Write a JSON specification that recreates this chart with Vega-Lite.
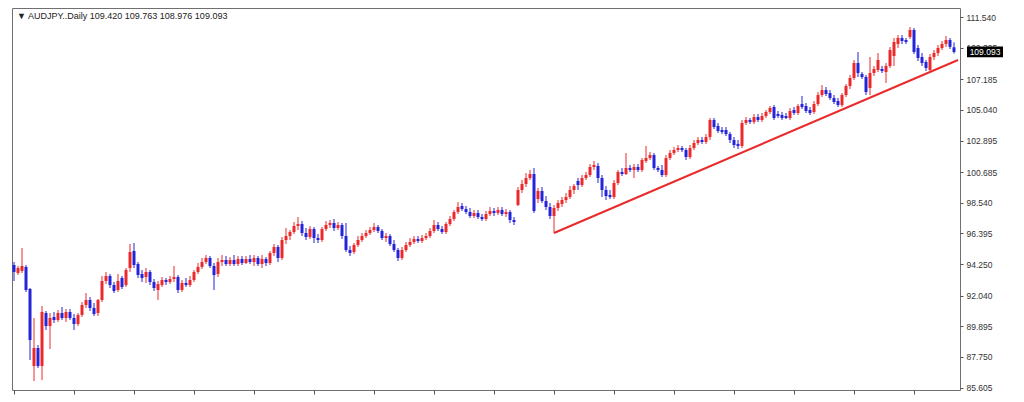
{
"$schema": "https://vega.github.io/schema/vega-lite/v6.json",
"width": 948, "height": 382,
"autosize": {"type": "none"},
"padding": {"left": 12, "top": 8, "right": 64, "bottom": 12},
"background": "white",
"config": {"view": {"stroke": "#707070", "strokeWidth": 1}, "axis": {"grid": false}},
"datasets": {
"candles": [
{"i":0,"o":94.18,"h":94.39,"l":93.06,"c":93.69},
{"i":1,"o":93.62,"h":94.11,"l":93.48,"c":93.97},
{"i":2,"o":93.76,"h":95.37,"l":93.62,"c":94.11},
{"i":3,"o":94.04,"h":94.18,"l":92.29,"c":92.43},
{"i":4,"o":92.50,"h":92.57,"l":87.53,"c":88.93},
{"i":5,"o":87.11,"h":90.47,"l":86.06,"c":88.37},
{"i":6,"o":88.37,"h":88.58,"l":86.97,"c":87.11},
{"i":7,"o":87.11,"h":91.31,"l":86.13,"c":90.89},
{"i":8,"o":90.82,"h":90.96,"l":89.63,"c":89.91},
{"i":9,"o":89.91,"h":90.82,"l":88.30,"c":90.47},
{"i":10,"o":90.54,"h":90.89,"l":90.12,"c":90.33},
{"i":11,"o":90.33,"h":91.03,"l":90.19,"c":90.82},
{"i":12,"o":90.82,"h":91.24,"l":90.33,"c":90.47},
{"i":13,"o":90.47,"h":91.10,"l":90.19,"c":90.89},
{"i":14,"o":90.89,"h":91.10,"l":90.33,"c":90.47},
{"i":15,"o":90.47,"h":90.75,"l":89.63,"c":90.05},
{"i":16,"o":90.05,"h":90.82,"l":89.91,"c":90.68},
{"i":17,"o":90.68,"h":91.59,"l":90.54,"c":91.38},
{"i":18,"o":91.38,"h":92.22,"l":91.17,"c":91.73},
{"i":19,"o":91.73,"h":91.94,"l":90.96,"c":91.17},
{"i":20,"o":91.17,"h":91.52,"l":90.61,"c":90.75},
{"i":21,"o":90.82,"h":91.80,"l":90.61,"c":91.73},
{"i":22,"o":91.73,"h":93.41,"l":91.59,"c":93.06},
{"i":23,"o":93.06,"h":93.69,"l":92.85,"c":93.41},
{"i":24,"o":93.41,"h":93.55,"l":92.57,"c":92.78},
{"i":25,"o":92.78,"h":92.99,"l":92.22,"c":92.36},
{"i":26,"o":92.43,"h":93.55,"l":92.29,"c":93.06},
{"i":27,"o":93.27,"h":93.41,"l":92.50,"c":92.64},
{"i":28,"o":92.78,"h":93.97,"l":92.64,"c":93.83},
{"i":29,"o":93.97,"h":95.65,"l":93.69,"c":95.09},
{"i":30,"o":95.16,"h":95.72,"l":93.97,"c":94.18},
{"i":31,"o":94.25,"h":94.39,"l":93.27,"c":93.48},
{"i":32,"o":93.55,"h":93.83,"l":92.99,"c":93.27},
{"i":33,"o":93.34,"h":93.97,"l":92.92,"c":93.69},
{"i":34,"o":93.69,"h":93.83,"l":92.78,"c":92.99},
{"i":35,"o":92.99,"h":93.20,"l":92.36,"c":92.57},
{"i":36,"o":92.43,"h":93.06,"l":91.73,"c":92.85},
{"i":37,"o":92.78,"h":93.34,"l":92.64,"c":93.13},
{"i":38,"o":93.13,"h":93.27,"l":92.78,"c":92.99},
{"i":39,"o":92.99,"h":93.41,"l":92.85,"c":93.20},
{"i":40,"o":93.20,"h":94.11,"l":92.99,"c":93.34},
{"i":41,"o":93.34,"h":93.48,"l":92.22,"c":92.43},
{"i":42,"o":92.43,"h":93.13,"l":92.29,"c":92.92},
{"i":43,"o":92.92,"h":93.27,"l":92.64,"c":92.78},
{"i":44,"o":92.78,"h":93.41,"l":92.64,"c":93.13},
{"i":45,"o":93.13,"h":93.83,"l":92.99,"c":93.69},
{"i":46,"o":93.69,"h":94.32,"l":93.55,"c":94.04},
{"i":47,"o":94.04,"h":94.67,"l":93.90,"c":94.39},
{"i":48,"o":94.39,"h":94.88,"l":94.25,"c":94.67},
{"i":49,"o":94.67,"h":94.81,"l":93.97,"c":94.11},
{"i":50,"o":94.11,"h":94.32,"l":92.43,"c":93.48},
{"i":51,"o":93.55,"h":94.67,"l":93.34,"c":94.39},
{"i":52,"o":94.39,"h":94.88,"l":94.11,"c":94.53},
{"i":53,"o":94.53,"h":94.81,"l":94.11,"c":94.25},
{"i":54,"o":94.25,"h":94.74,"l":94.11,"c":94.53},
{"i":55,"o":94.53,"h":94.88,"l":94.11,"c":94.25},
{"i":56,"o":94.25,"h":94.81,"l":94.11,"c":94.60},
{"i":57,"o":94.60,"h":94.81,"l":94.18,"c":94.32},
{"i":58,"o":94.32,"h":94.81,"l":94.25,"c":94.60},
{"i":59,"o":94.60,"h":94.88,"l":94.25,"c":94.39},
{"i":60,"o":94.39,"h":94.88,"l":94.11,"c":94.67},
{"i":61,"o":94.67,"h":94.81,"l":94.11,"c":94.25},
{"i":62,"o":94.25,"h":94.88,"l":93.97,"c":94.60},
{"i":63,"o":94.60,"h":94.74,"l":94.11,"c":94.32},
{"i":64,"o":94.32,"h":95.16,"l":94.18,"c":95.02},
{"i":65,"o":95.02,"h":95.65,"l":94.81,"c":95.44},
{"i":66,"o":95.44,"h":95.58,"l":94.39,"c":94.67},
{"i":67,"o":94.67,"h":96.14,"l":94.53,"c":95.93},
{"i":68,"o":95.93,"h":96.77,"l":95.65,"c":96.21},
{"i":69,"o":96.21,"h":96.63,"l":95.93,"c":96.49},
{"i":70,"o":96.49,"h":97.19,"l":96.35,"c":96.91},
{"i":71,"o":96.91,"h":97.54,"l":96.63,"c":97.05},
{"i":72,"o":97.05,"h":97.26,"l":96.21,"c":96.42},
{"i":73,"o":96.42,"h":96.77,"l":95.93,"c":96.14},
{"i":74,"o":96.14,"h":96.91,"l":96.00,"c":96.70},
{"i":75,"o":96.70,"h":96.84,"l":95.72,"c":96.07},
{"i":76,"o":96.07,"h":96.35,"l":95.72,"c":95.93},
{"i":77,"o":95.93,"h":96.84,"l":95.79,"c":96.70},
{"i":78,"o":96.70,"h":97.26,"l":96.56,"c":96.98},
{"i":79,"o":96.98,"h":97.33,"l":96.77,"c":97.12},
{"i":80,"o":97.12,"h":97.40,"l":96.56,"c":96.77},
{"i":81,"o":96.77,"h":97.19,"l":96.63,"c":96.98},
{"i":82,"o":96.98,"h":97.12,"l":96.00,"c":96.21},
{"i":83,"o":96.21,"h":97.12,"l":95.09,"c":95.23},
{"i":84,"o":95.23,"h":95.51,"l":94.81,"c":95.02},
{"i":85,"o":95.09,"h":95.72,"l":94.95,"c":95.58},
{"i":86,"o":95.58,"h":96.21,"l":95.44,"c":95.93},
{"i":87,"o":95.93,"h":96.42,"l":95.79,"c":96.21},
{"i":88,"o":96.21,"h":96.63,"l":96.07,"c":96.42},
{"i":89,"o":96.42,"h":96.84,"l":96.28,"c":96.63},
{"i":90,"o":96.63,"h":97.12,"l":96.49,"c":96.84},
{"i":91,"o":96.84,"h":96.98,"l":96.42,"c":96.56},
{"i":92,"o":96.56,"h":96.70,"l":95.93,"c":96.07},
{"i":93,"o":96.07,"h":96.42,"l":95.79,"c":96.21},
{"i":94,"o":96.21,"h":96.35,"l":95.51,"c":95.65},
{"i":95,"o":95.65,"h":95.93,"l":95.09,"c":95.23},
{"i":96,"o":95.23,"h":95.37,"l":94.46,"c":94.67},
{"i":97,"o":94.67,"h":95.44,"l":94.53,"c":95.23},
{"i":98,"o":95.23,"h":95.79,"l":95.09,"c":95.58},
{"i":99,"o":95.58,"h":96.07,"l":95.44,"c":95.79},
{"i":100,"o":95.79,"h":96.21,"l":95.65,"c":96.00},
{"i":101,"o":96.00,"h":96.21,"l":95.72,"c":95.86},
{"i":102,"o":95.86,"h":96.28,"l":95.72,"c":96.07},
{"i":103,"o":96.07,"h":96.42,"l":95.93,"c":96.21},
{"i":104,"o":96.21,"h":96.77,"l":96.07,"c":96.56},
{"i":105,"o":96.56,"h":97.33,"l":96.42,"c":96.98},
{"i":106,"o":96.98,"h":97.19,"l":96.56,"c":96.70},
{"i":107,"o":96.70,"h":96.91,"l":96.35,"c":96.49},
{"i":108,"o":96.49,"h":97.19,"l":96.35,"c":97.05},
{"i":109,"o":97.05,"h":97.61,"l":96.91,"c":97.40},
{"i":110,"o":97.40,"h":98.03,"l":97.26,"c":97.89},
{"i":111,"o":97.89,"h":98.59,"l":97.75,"c":98.24},
{"i":112,"o":98.31,"h":98.52,"l":97.96,"c":98.10},
{"i":113,"o":98.10,"h":98.31,"l":97.75,"c":97.89},
{"i":114,"o":97.89,"h":98.17,"l":97.47,"c":97.61},
{"i":115,"o":97.61,"h":98.03,"l":97.47,"c":97.82},
{"i":116,"o":97.82,"h":98.03,"l":97.40,"c":97.54},
{"i":117,"o":97.54,"h":97.75,"l":97.26,"c":97.40},
{"i":118,"o":97.40,"h":97.96,"l":97.26,"c":97.75},
{"i":119,"o":97.75,"h":98.24,"l":97.61,"c":97.96},
{"i":120,"o":97.96,"h":98.17,"l":97.61,"c":97.82},
{"i":121,"o":97.82,"h":98.24,"l":97.68,"c":98.03},
{"i":122,"o":98.03,"h":98.24,"l":97.61,"c":97.75},
{"i":123,"o":97.75,"h":98.10,"l":97.54,"c":97.89},
{"i":124,"o":97.89,"h":98.03,"l":97.12,"c":97.33},
{"i":125,"o":97.33,"h":97.54,"l":96.98,"c":97.19},
{"i":126,"o":98.38,"h":99.64,"l":98.31,"c":99.43},
{"i":127,"o":99.43,"h":100.13,"l":99.22,"c":99.85},
{"i":128,"o":99.85,"h":100.62,"l":99.64,"c":100.27},
{"i":129,"o":100.27,"h":100.83,"l":100.13,"c":100.55},
{"i":130,"o":100.55,"h":100.97,"l":97.82,"c":97.96},
{"i":131,"o":98.80,"h":99.57,"l":98.52,"c":99.36},
{"i":132,"o":99.36,"h":99.64,"l":98.52,"c":98.66},
{"i":133,"o":98.66,"h":99.01,"l":98.03,"c":98.24},
{"i":134,"o":98.24,"h":98.52,"l":97.40,"c":97.61},
{"i":135,"o":97.61,"h":98.38,"l":96.42,"c":98.17},
{"i":136,"o":98.17,"h":98.73,"l":97.96,"c":98.52},
{"i":137,"o":98.45,"h":98.94,"l":98.24,"c":98.73},
{"i":138,"o":98.73,"h":99.22,"l":98.52,"c":98.94},
{"i":139,"o":98.94,"h":99.71,"l":98.80,"c":99.43},
{"i":140,"o":99.43,"h":99.85,"l":99.15,"c":99.71},
{"i":141,"o":100.06,"h":100.27,"l":99.43,"c":99.78},
{"i":142,"o":99.78,"h":100.48,"l":99.64,"c":100.27},
{"i":143,"o":100.27,"h":100.69,"l":100.13,"c":100.48},
{"i":144,"o":100.48,"h":101.25,"l":100.34,"c":101.04},
{"i":145,"o":101.04,"h":101.46,"l":100.83,"c":101.18},
{"i":146,"o":101.11,"h":101.32,"l":99.92,"c":100.27},
{"i":147,"o":100.27,"h":100.48,"l":98.94,"c":99.43},
{"i":148,"o":99.43,"h":99.71,"l":98.73,"c":99.01},
{"i":149,"o":99.08,"h":99.43,"l":98.80,"c":98.94},
{"i":150,"o":98.94,"h":100.13,"l":98.80,"c":99.92},
{"i":151,"o":99.92,"h":100.83,"l":99.78,"c":100.69},
{"i":152,"o":100.69,"h":100.97,"l":100.41,"c":100.55},
{"i":153,"o":100.55,"h":102.02,"l":100.48,"c":100.97},
{"i":154,"o":100.97,"h":101.18,"l":100.69,"c":100.83},
{"i":155,"o":100.83,"h":101.25,"l":100.27,"c":101.04},
{"i":156,"o":101.04,"h":101.25,"l":100.69,"c":100.83},
{"i":157,"o":100.83,"h":101.67,"l":100.69,"c":101.53},
{"i":158,"o":101.46,"h":102.51,"l":101.32,"c":101.67},
{"i":159,"o":101.67,"h":102.09,"l":101.53,"c":101.88},
{"i":160,"o":101.88,"h":102.02,"l":100.83,"c":100.97},
{"i":161,"o":100.97,"h":101.11,"l":100.69,"c":100.83},
{"i":162,"o":100.83,"h":101.18,"l":100.34,"c":100.48},
{"i":163,"o":100.48,"h":101.88,"l":100.34,"c":101.67},
{"i":164,"o":101.67,"h":102.23,"l":101.53,"c":102.02},
{"i":165,"o":102.02,"h":102.44,"l":101.88,"c":102.23},
{"i":166,"o":102.23,"h":102.58,"l":102.09,"c":102.37},
{"i":167,"o":102.37,"h":102.51,"l":102.09,"c":102.23},
{"i":168,"o":102.23,"h":102.37,"l":101.53,"c":101.74},
{"i":169,"o":101.74,"h":102.58,"l":101.60,"c":102.37},
{"i":170,"o":102.37,"h":102.93,"l":102.23,"c":102.72},
{"i":171,"o":102.72,"h":103.14,"l":102.58,"c":102.93},
{"i":172,"o":102.93,"h":103.14,"l":102.65,"c":102.79},
{"i":173,"o":102.79,"h":103.35,"l":102.65,"c":103.14},
{"i":174,"o":103.14,"h":104.47,"l":102.93,"c":104.33},
{"i":175,"o":104.33,"h":104.47,"l":103.70,"c":103.84},
{"i":176,"o":103.91,"h":104.12,"l":103.42,"c":103.56},
{"i":177,"o":103.63,"h":103.84,"l":103.35,"c":103.49},
{"i":178,"o":103.63,"h":103.84,"l":103.21,"c":103.35},
{"i":179,"o":103.35,"h":103.49,"l":102.72,"c":102.93},
{"i":180,"o":102.93,"h":103.14,"l":102.37,"c":102.58},
{"i":181,"o":102.65,"h":102.93,"l":102.30,"c":102.51},
{"i":182,"o":102.51,"h":104.33,"l":102.37,"c":104.12},
{"i":183,"o":104.12,"h":104.54,"l":103.98,"c":104.33},
{"i":184,"o":104.33,"h":104.47,"l":104.05,"c":104.19},
{"i":185,"o":104.19,"h":104.75,"l":104.05,"c":104.54},
{"i":186,"o":104.54,"h":104.75,"l":104.19,"c":104.33},
{"i":187,"o":104.33,"h":104.82,"l":104.19,"c":104.61},
{"i":188,"o":104.61,"h":105.03,"l":104.47,"c":104.89},
{"i":189,"o":104.89,"h":105.31,"l":104.75,"c":105.17},
{"i":190,"o":105.24,"h":105.38,"l":104.33,"c":104.47},
{"i":191,"o":104.75,"h":104.96,"l":104.47,"c":104.61},
{"i":192,"o":104.68,"h":104.89,"l":104.33,"c":104.47},
{"i":193,"o":104.61,"h":104.82,"l":104.40,"c":104.47},
{"i":194,"o":104.47,"h":105.17,"l":104.33,"c":104.96},
{"i":195,"o":105.03,"h":105.24,"l":104.68,"c":104.82},
{"i":196,"o":104.82,"h":105.45,"l":104.68,"c":105.31},
{"i":197,"o":105.45,"h":106.01,"l":105.10,"c":105.24},
{"i":198,"o":105.31,"h":105.52,"l":104.82,"c":104.96},
{"i":199,"o":105.03,"h":105.24,"l":104.68,"c":104.82},
{"i":200,"o":104.89,"h":105.66,"l":104.75,"c":105.45},
{"i":201,"o":105.45,"h":106.29,"l":105.31,"c":106.08},
{"i":202,"o":106.08,"h":106.78,"l":105.94,"c":106.43},
{"i":203,"o":106.43,"h":106.64,"l":106.01,"c":106.15},
{"i":204,"o":106.22,"h":106.43,"l":105.73,"c":105.87},
{"i":205,"o":105.87,"h":106.08,"l":105.45,"c":105.59},
{"i":206,"o":105.66,"h":105.87,"l":105.24,"c":105.38},
{"i":207,"o":105.38,"h":106.22,"l":105.24,"c":106.08},
{"i":208,"o":106.08,"h":106.85,"l":105.94,"c":106.71},
{"i":209,"o":106.71,"h":107.48,"l":106.50,"c":107.27},
{"i":210,"o":107.27,"h":108.53,"l":107.13,"c":108.32},
{"i":211,"o":108.32,"h":109.09,"l":107.34,"c":107.62},
{"i":212,"o":107.55,"h":107.69,"l":107.20,"c":107.34},
{"i":213,"o":107.34,"h":107.48,"l":106.08,"c":106.29},
{"i":214,"o":106.57,"h":108.74,"l":106.08,"c":107.62},
{"i":215,"o":107.62,"h":108.11,"l":107.41,"c":107.90},
{"i":216,"o":107.83,"h":109.02,"l":107.69,"c":108.53},
{"i":217,"o":107.90,"h":108.11,"l":107.62,"c":107.76},
{"i":218,"o":107.69,"h":108.32,"l":106.92,"c":108.11},
{"i":219,"o":108.11,"h":109.44,"l":107.97,"c":109.23},
{"i":220,"o":108.81,"h":110.07,"l":108.11,"c":109.79},
{"i":221,"o":109.65,"h":110.28,"l":109.37,"c":110.07},
{"i":222,"o":110.07,"h":110.28,"l":109.65,"c":109.86},
{"i":223,"o":109.93,"h":110.07,"l":109.65,"c":109.79},
{"i":224,"o":110.14,"h":110.84,"l":110.00,"c":110.63},
{"i":225,"o":110.63,"h":110.77,"l":108.95,"c":109.09},
{"i":226,"o":109.37,"h":109.58,"l":108.46,"c":108.67},
{"i":227,"o":108.74,"h":109.02,"l":108.11,"c":108.32},
{"i":228,"o":108.39,"h":108.53,"l":107.76,"c":107.97},
{"i":229,"o":107.83,"h":108.95,"l":107.69,"c":108.74},
{"i":230,"o":108.74,"h":109.23,"l":108.53,"c":109.02},
{"i":231,"o":109.02,"h":109.58,"l":108.81,"c":109.37},
{"i":232,"o":109.37,"h":109.86,"l":109.23,"c":109.65},
{"i":233,"o":109.65,"h":110.21,"l":109.44,"c":109.93},
{"i":234,"o":109.93,"h":110.07,"l":109.30,"c":109.45},
{"i":235,"o":109.42,"h":109.763,"l":108.976,"c":109.093}
],
"trend": [
{"i":135,"p":96.42},
{"i":236,"p":108.53}
],
"last": [{"price":109.093}],
"header": [{"label":"▼ AUDJPY..Daily  109.420 109.763 108.976 109.093"}]
},
"layer": [
{
"data": {"name": "candles"},
"mark": {"type": "rule", "strokeWidth": 1},
"encoding": {
"x": {"field": "i", "type": "quantitative", "scale": {"domain": [-0.5, 236.5], "nice": false, "zero": false, "padding": 0},
"axis": {"orient": "bottom", "values": [0,15,30,45,60,75,90,105,120,135,150,165,180,195,210,225], "tickCount": 40, "labels": false, "domain": false, "ticks": true, "tickSize": 4, "tickColor": "#555555", "title": null, "grid": false}},
"y": {"field": "l", "type": "quantitative", "scale": {"domain": [85.43, 112.17], "nice": false, "zero": false, "padding": 0},
"axis": {"orient": "right", "values": [85.605, 87.75, 89.895, 92.04, 94.25, 96.395, 98.54, 100.685, 102.895, 105.04, 107.185, 109.395, 111.54], "tickCount": 40, "format": ".3f", "domain": false, "tickSize": 3, "tickColor": "#555555", "labelFont": "Liberation Sans", "labelFontSize": 8.5, "labelColor": "#333333", "labelPadding": 3, "labelOverlap": false, "labelBound": false, "title": null, "grid": false}},
"y2": {"field": "h"},
"color": {"condition": {"test": "datum.o > datum.c", "value": "#2424d8"}, "value": "#ea2a2a"}
}
},
{
"data": {"name": "candles"},
"mark": {"type": "bar", "size": 3},
"encoding": {
"x": {"field": "i", "type": "quantitative"},
"y": {"field": "o", "type": "quantitative"},
"y2": {"field": "c"},
"color": {"condition": {"test": "datum.o > datum.c", "value": "#2424d8"}, "value": "#ea2a2a"}
}
},
{
"data": {"name": "trend"},
"mark": {"type": "line", "color": "#ea2a2a", "strokeWidth": 2},
"encoding": {
"x": {"field": "i", "type": "quantitative"},
"y": {"field": "p", "type": "quantitative"}
}
},
{
"data": {"name": "last"},
"mark": {"type": "rect", "color": "#000000"},
"encoding": {
"x": {"datum": 238.25, "type": "quantitative"},
"x2": {"datum": 247.25},
"y": {"datum": 109.47, "type": "quantitative"},
"y2": {"datum": 108.72}
}
},
{
"data": {"name": "last"},
"mark": {"type": "text", "color": "#ffffff", "font": "Liberation Sans", "fontSize": 8.5, "align": "center", "baseline": "middle"},
"encoding": {
"x": {"datum": 242.75, "type": "quantitative"},
"y": {"field": "price", "type": "quantitative"},
"text": {"field": "price", "type": "quantitative", "format": ".3f"}
}
},
{
"data": {"name": "header"},
"mark": {"type": "text", "color": "#222222", "font": "Liberation Sans", "fontSize": 9, "align": "left", "baseline": "alphabetic"},
"encoding": {
"x": {"datum": 0.75, "type": "quantitative"},
"y": {"datum": 111.4, "type": "quantitative"},
"text": {"field": "label"}
}
}
]
}
